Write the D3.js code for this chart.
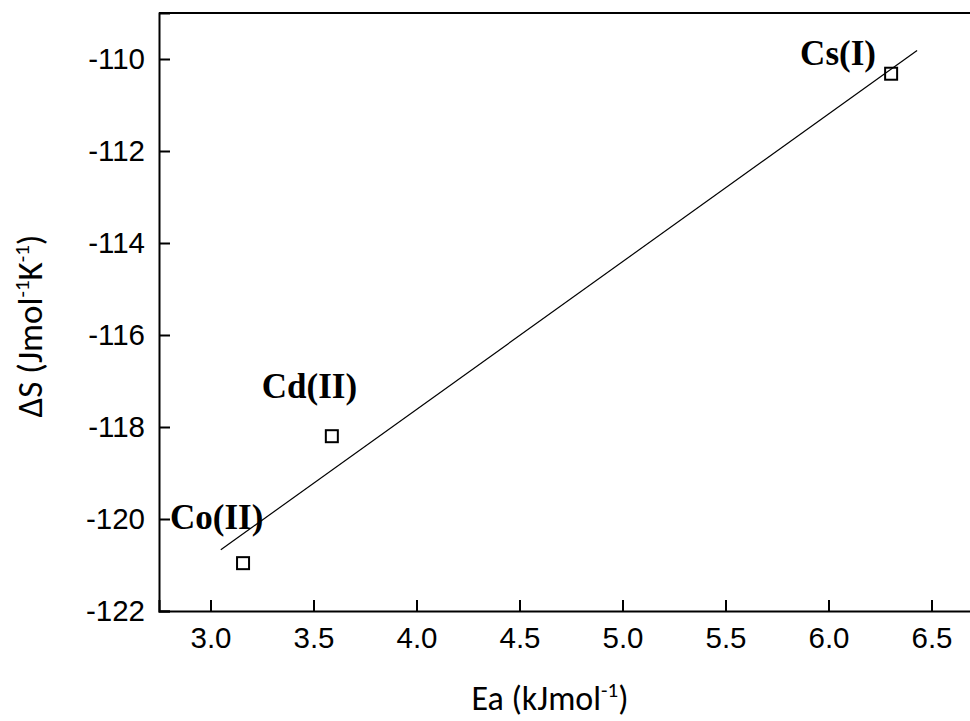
<!DOCTYPE html>
<html>
<head>
<meta charset="utf-8">
<script src="https://cdn.jsdelivr.net/npm/d3@7"></script>
<style>
  html, body { margin: 0; padding: 0; background: #fff; }
  svg { display: block; }
</style>
</head>
<body>
<svg id="chart" width="970" height="721"></svg>
<script>
// Metal ions and their activation energy / entropy change
const ions = ["Co(II)", "Cd(II)", "Cs(I)"];
const ea = [3.158, 3.589, 6.304];          // kJ/mol
const deltaS = [-120.96, -118.20, -110.32]; // J/(mol K)

// Fit range along x for the regression line
const fitRange = [3.05, 6.43];

const xTicks = [3.0, 3.5, 4.0, 4.5, 5.0, 5.5, 6.0, 6.5];
const yTicks = [-122, -120, -118, -116, -114, -112, -110];

const svg = d3.select("#chart");

const x = d3.scaleLinear().domain([2.75, 6.75]).range([159, 983]);
const y = d3.scaleLinear().domain([-122, -109]).range([611, 13]);

const tickFont = "'Liberation Sans', Arial, sans-serif";
const titleFont = "Carlito, Lato, 'Open Sans', sans-serif";

// Frame lines (top and right)
svg.append("line")
  .attr("x1", x.range()[0]).attr("x2", x.range()[1])
  .attr("y1", y(-109)).attr("y2", y(-109))
  .attr("stroke", "#000").attr("stroke-width", 2);
svg.append("line")
  .attr("x1", x(6.75)).attr("x2", x(6.75))
  .attr("y1", y(-109)).attr("y2", y(-122))
  .attr("stroke", "#000").attr("stroke-width", 2);

// Minor ticks
const xMinor = d3.range(2.75, 6.76, 0.5);
const yMinor = d3.range(-121, -108.9, 2);

const gx = svg.append("g").attr("transform", `translate(0,${y(-122)})`);
gx.call(d3.axisBottom(x).tickValues(xMinor).tickSize(-6).tickFormat(""));
gx.call(d3.axisBottom(x).tickValues(xTicks).tickSize(-11).tickPadding(16)
  .tickFormat(d3.format(".1f")));

const gy = svg.append("g").attr("transform", `translate(${x(2.75)},0)`);
gy.call(d3.axisLeft(y).tickValues(yMinor).tickSize(-6).tickFormat(""));
gy.call(d3.axisLeft(y).tickValues(yTicks).tickSize(-11).tickPadding(14)
  .tickFormat(d => d3.format("d")(d).replace("−", "-")));

svg.selectAll(".domain").attr("stroke-width", 2).attr("stroke", "#000");
svg.selectAll(".tick line").attr("stroke-width", 2).attr("stroke", "#000");
svg.selectAll(".tick text")
  .attr("font-family", tickFont).attr("font-size", 29.5).attr("fill", "#000");
gx.selectAll(".tick text").attr("dy", "0.71em");

// Least-squares fit line
const mx = d3.mean(ea), my = d3.mean(deltaS);
const sxy = d3.sum(ea, (v, i) => (v - mx) * (deltaS[i] - my));
const sxx = d3.sum(ea, v => (v - mx) * (v - mx));
const slope = sxy / sxx, intercept = my - slope * mx;

svg.append("line")
  .attr("x1", x(fitRange[0])).attr("y1", y(intercept + slope * fitRange[0]))
  .attr("x2", x(fitRange[1])).attr("y2", y(intercept + slope * fitRange[1]))
  .attr("stroke", "#000").attr("stroke-width", 1.2);

// Data markers (open squares)
const side = 12;
svg.append("g").selectAll("rect")
  .data(ea)
  .join("rect")
  .attr("x", (d) => x(d) - side / 2)
  .attr("y", (d, i) => y(deltaS[i]) - side / 2)
  .attr("width", side).attr("height", side)
  .attr("fill", "none").attr("stroke", "#000").attr("stroke-width", 2);

// Point labels
const labelOffset = [[-73, -34], [-70, -38], [-91, -9]];
svg.append("g").selectAll("text")
  .data(ions)
  .join("text")
  .attr("x", (d, i) => x(ea[i]) + labelOffset[i][0])
  .attr("y", (d, i) => y(deltaS[i]) + labelOffset[i][1])
  .attr("font-family", "'Liberation Serif', 'Times New Roman', serif")
  .attr("font-weight", "bold").attr("font-size", 35)
  .attr("fill", "#000")
  .text(d => d);

// Axis titles
const xt = svg.append("text")
  .attr("x", 550).attr("y", 710)
  .attr("text-anchor", "middle")
  .attr("font-family", titleFont).attr("font-size", 34).attr("fill", "#000");
xt.append("tspan").text("Ea (kJmol");
xt.append("tspan").attr("font-size", 21).attr("dy", -13).text("-1");
xt.append("tspan").attr("dy", 13).text(")");

const yt = svg.append("text")
  .attr("transform", "translate(42,326) rotate(-90)")
  .attr("text-anchor", "middle")
  .attr("font-family", titleFont).attr("font-size", 35).attr("fill", "#000");
yt.append("tspan").text("ΔS (Jmol");
yt.append("tspan").attr("font-size", 21).attr("dy", -13).text("-1");
yt.append("tspan").attr("dy", 13).text("K");
yt.append("tspan").attr("font-size", 21).attr("dy", -13).text("-1");
yt.append("tspan").attr("dy", 13).text(")");
</script>
</body>
</html>
